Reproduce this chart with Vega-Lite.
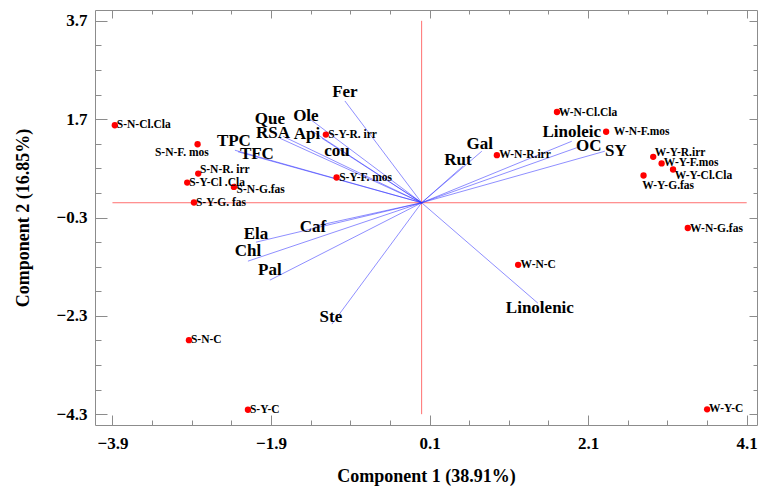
{
  "$schema": "https://vega.github.io/schema/vega-lite/v6.json",
  "autosize": "none",
  "width": 662,
  "height": 415,
  "padding": {"left": 95, "top": 10, "right": 1, "bottom": 62},
  "background": "white",
  "config": {
    "view": {"stroke": "#8c8c8c", "strokeWidth": 1},
    "axis": {"grid": false, "domain": false, "tickColor": "#8c8c8c", "tickWidth": 1}
  },
  "datasets": {
    "samples": [
      {"name": "S-N-Cl.Cla", "x": -3.87, "y": 1.576, "lx": -3.845, "ly": 1.576},
      {"name": "S-N-F. mos", "x": -2.826, "y": 1.19, "lx": -3.364, "ly": 1.007},
      {"name": "S-N-R. irr", "x": -2.818, "y": 0.594, "lx": -2.797, "ly": 0.661},
      {"name": "S-Y-Cl .Cla", "x": -2.957, "y": 0.411, "lx": -2.932, "ly": 0.397},
      {"name": "S-N-G.fas", "x": -2.368, "y": 0.322, "lx": -2.334, "ly": 0.261},
      {"name": "S-Y-G. fas", "x": -2.872, "y": 0.005, "lx": -2.847, "ly": -0.009},
      {"name": "S-Y-R. irr", "x": -1.208, "y": 1.387, "lx": -1.179, "ly": 1.379},
      {"name": "S-Y-F. mos", "x": -1.073, "y": 0.513, "lx": -1.04, "ly": 0.499},
      {"name": "W-N-Cl.Cla", "x": 1.707, "y": 1.846, "lx": 1.728, "ly": 1.832},
      {"name": "W-N-F.mos", "x": 2.327, "y": 1.444, "lx": 2.424, "ly": 1.444},
      {"name": "W-N-R.irr", "x": 0.949, "y": 0.968, "lx": 0.978, "ly": 0.962},
      {"name": "W-Y-R.irr", "x": 2.921, "y": 0.934, "lx": 2.941, "ly": 1.003},
      {"name": "W-Y-F.mos", "x": 3.027, "y": 0.8, "lx": 3.055, "ly": 0.8},
      {"name": "W-Y-Cl.Cla", "x": 3.171, "y": 0.676, "lx": 3.191, "ly": 0.554},
      {"name": "W-Y-G.fas", "x": 2.799, "y": 0.554, "lx": 2.782, "ly": 0.336},
      {"name": "W-N-G.fas", "x": 3.357, "y": -0.513, "lx": 3.385, "ly": -0.528},
      {"name": "W-N-C", "x": 1.217, "y": -1.263, "lx": 1.248, "ly": -1.263},
      {"name": "W-Y-C", "x": 3.601, "y": -4.202, "lx": 3.626, "ly": -4.202},
      {"name": "S-N-C", "x": -2.935, "y": -2.794, "lx": -2.91, "ly": -2.794},
      {"name": "S-Y-C", "x": -2.191, "y": -4.21, "lx": -2.166, "ly": -4.21}
    ],
    "loadings": [
      {"name": "Fer", "x": -0.968, "y": 2.07, "lx": -0.968, "ly": 2.247},
      {"name": "Que", "x": -1.75, "y": 1.352, "lx": -1.914, "ly": 1.698},
      {"name": "RSA", "x": -1.788, "y": 1.312, "lx": -1.876, "ly": 1.413},
      {"name": "Ole", "x": -1.422, "y": 1.718, "lx": -1.46, "ly": 1.76},
      {"name": "Api", "x": -1.397, "y": 1.474, "lx": -1.447, "ly": 1.393},
      {"name": "cou", "x": -1.258, "y": 1.312, "lx": -1.069, "ly": 1.058},
      {"name": "TPC", "x": -2.355, "y": 1.068, "lx": -2.368, "ly": 1.261},
      {"name": "TFC", "x": -2.317, "y": 1.037, "lx": -2.078, "ly": 0.987},
      {"name": "Rut", "x": 0.52, "y": 0.743, "lx": 0.457, "ly": 0.865},
      {"name": "Gal", "x": 0.759, "y": 1.048, "lx": 0.734, "ly": 1.19},
      {"name": "Linoleic", "x": 1.894, "y": 1.251, "lx": 1.894, "ly": 1.434},
      {"name": "OC", "x": 1.957, "y": 1.119, "lx": 2.109, "ly": 1.159},
      {"name": "SY", "x": 2.311, "y": 1.048, "lx": 2.449, "ly": 1.048},
      {"name": "Caf", "x": -1.346, "y": -0.477, "lx": -1.371, "ly": -0.497},
      {"name": "Ela", "x": -2.09, "y": -0.802, "lx": -2.09, "ly": -0.639},
      {"name": "Chl", "x": -2.191, "y": -1.188, "lx": -2.191, "ly": -0.985},
      {"name": "Pal", "x": -1.914, "y": -1.574, "lx": -1.914, "ly": -1.371},
      {"name": "Ste", "x": -1.132, "y": -2.469, "lx": -1.145, "ly": -2.326},
      {"name": "Linolenic", "x": 1.466, "y": -2.042, "lx": 1.491, "ly": -2.143}
    ],
    "refLines": [
      {"x": -3.9, "x2": 4.1, "y": 0, "y2": 0},
      {"x": 0, "x2": 0, "y": -4.3, "y2": 3.7}
    ]
  },
  "layer": [
    {
      "data": {"name": "refLines"},
      "mark": {"type": "rule", "strokeOpacity": 0, "opacity": 0},
      "encoding": {
        "x": {
          "field": "x", "type": "quantitative",
          "scale": {"domain": [-4.12, 4.23], "nice": false, "zero": false},
          "axis": {
            "orient": "bottom",
            "values": [-3.9, -3.4, -2.9, -2.4, -1.9, -1.4, -0.9, -0.4, 0.1, 0.6, 1.1, 1.6, 2.1, 2.6, 3.1, 3.6, 4.1],
            "labelExpr": "indexof([-3.9, -1.9, 0.1, 2.1, 4.1], datum.value) >= 0 ? format(datum.value, '.1f') : ''",
            "tickSize": {"condition": {"test": "indexof([-3.9, -1.9, 0.1, 2.1, 4.1], datum.value) >= 0", "value": -10}, "value": -5},
            "labelFont": "Liberation Serif", "labelFontWeight": "bold", "labelFontSize": 17, "labelColor": "black",
            "labelPadding": 20, "labelFlush": false, "labelOverlap": false,
            "title": "Component 1 (38.91%)",
            "titleFont": "Liberation Serif", "titleFontWeight": "bold", "titleFontSize": 18, "titleColor": "black",
            "titlePadding": 11
          }
        },
        "x2": {"field": "x2"},
        "y": {
          "field": "y", "type": "quantitative",
          "scale": {"domain": [-4.52, 3.92], "nice": false, "zero": false},
          "axis": {
            "orient": "left",
            "values": [-4.3, -3.8, -3.3, -2.8, -2.3, -1.8, -1.3, -0.8, -0.3, 0.2, 0.7, 1.2, 1.7, 2.2, 2.7, 3.2, 3.7],
            "labelExpr": "indexof([-4.3, -2.3, -0.3, 1.7, 3.7], datum.value) >= 0 ? format(datum.value, '.1f') : ''",
            "tickSize": {"condition": {"test": "indexof([-4.3, -2.3, -0.3, 1.7, 3.7], datum.value) >= 0", "value": -12}, "value": -6},
            "labelFont": "Liberation Serif", "labelFontWeight": "bold", "labelFontSize": 17, "labelColor": "black",
            "labelPadding": 20, "labelFlush": false, "labelOverlap": false,
            "title": "Component 2 (16.85%)",
            "titleFont": "Liberation Serif", "titleFontWeight": "bold", "titleFontSize": 18, "titleColor": "black",
            "titlePadding": 24
          }
        },
        "y2": {"field": "y2"}
      }
    },
    {
      "data": {"name": "refLines"},
      "mark": {"type": "rule", "color": "#ff7070", "strokeWidth": 1},
      "encoding": {
        "x": {
          "field": "x", "type": "quantitative",
          "scale": {"domain": [-4.12, 4.23], "nice": false, "zero": false},
          "axis": {
            "orient": "top",
            "values": [-3.9, -3.4, -2.9, -2.4, -1.9, -1.4, -0.9, -0.4, 0.1, 0.6, 1.1, 1.6, 2.1, 2.6, 3.1, 3.6, 4.1],
            "labels": false, "title": null,
            "tickSize": {"condition": {"test": "indexof([-3.9, -1.9, 0.1, 2.1, 4.1], datum.value) >= 0", "value": -8}, "value": -4}
          }
        },
        "x2": {"field": "x2"},
        "y": {
          "field": "y", "type": "quantitative",
          "scale": {"domain": [-4.52, 3.92], "nice": false, "zero": false},
          "axis": {
            "orient": "right",
            "values": [-4.3, -3.8, -3.3, -2.8, -2.3, -1.8, -1.3, -0.8, -0.3, 0.2, 0.7, 1.2, 1.7, 2.2, 2.7, 3.2, 3.7],
            "labels": false, "title": null,
            "tickSize": {"condition": {"test": "indexof([-4.3, -2.3, -0.3, 1.7, 3.7], datum.value) >= 0", "value": -8}, "value": -4}
          }
        },
        "y2": {"field": "y2"}
      }
    },
    {
      "data": {"name": "loadings"},
      "mark": {"type": "rule", "color": "#3333ff", "strokeOpacity": 0.55, "strokeWidth": 1},
      "encoding": {
        "x": {"field": "x", "type": "quantitative", "scale": {"domain": [-4.12, 4.23], "nice": false, "zero": false}, "axis": null},
        "y": {"field": "y", "type": "quantitative", "scale": {"domain": [-4.52, 3.92], "nice": false, "zero": false}, "axis": null},
        "x2": {"datum": 0},
        "y2": {"datum": 0}
      }
    },
    {
      "data": {"name": "loadings"},
      "mark": {"type": "text", "font": "Liberation Serif", "fontWeight": "bold", "fontSize": 17, "color": "black", "align": "center", "baseline": "middle"},
      "encoding": {
        "x": {"field": "lx", "type": "quantitative", "scale": {"domain": [-4.12, 4.23], "nice": false, "zero": false}, "axis": null},
        "y": {"field": "ly", "type": "quantitative", "scale": {"domain": [-4.52, 3.92], "nice": false, "zero": false}, "axis": null},
        "text": {"field": "name"}
      }
    },
    {
      "data": {"name": "samples"},
      "mark": {"type": "circle", "color": "#ff0000", "opacity": 1, "size": 40},
      "encoding": {
        "x": {"field": "x", "type": "quantitative", "scale": {"domain": [-4.12, 4.23], "nice": false, "zero": false}, "axis": null},
        "y": {"field": "y", "type": "quantitative", "scale": {"domain": [-4.52, 3.92], "nice": false, "zero": false}, "axis": null}
      }
    },
    {
      "data": {"name": "samples"},
      "mark": {"type": "text", "font": "Liberation Serif", "fontWeight": "bold", "fontSize": 11.5, "color": "black", "align": "left", "baseline": "middle"},
      "encoding": {
        "x": {"field": "lx", "type": "quantitative", "scale": {"domain": [-4.12, 4.23], "nice": false, "zero": false}, "axis": null},
        "y": {"field": "ly", "type": "quantitative", "scale": {"domain": [-4.52, 3.92], "nice": false, "zero": false}, "axis": null},
        "text": {"field": "name"}
      }
    }
  ],
  "resolve": {"axis": {"x": "independent", "y": "independent"}}
}
